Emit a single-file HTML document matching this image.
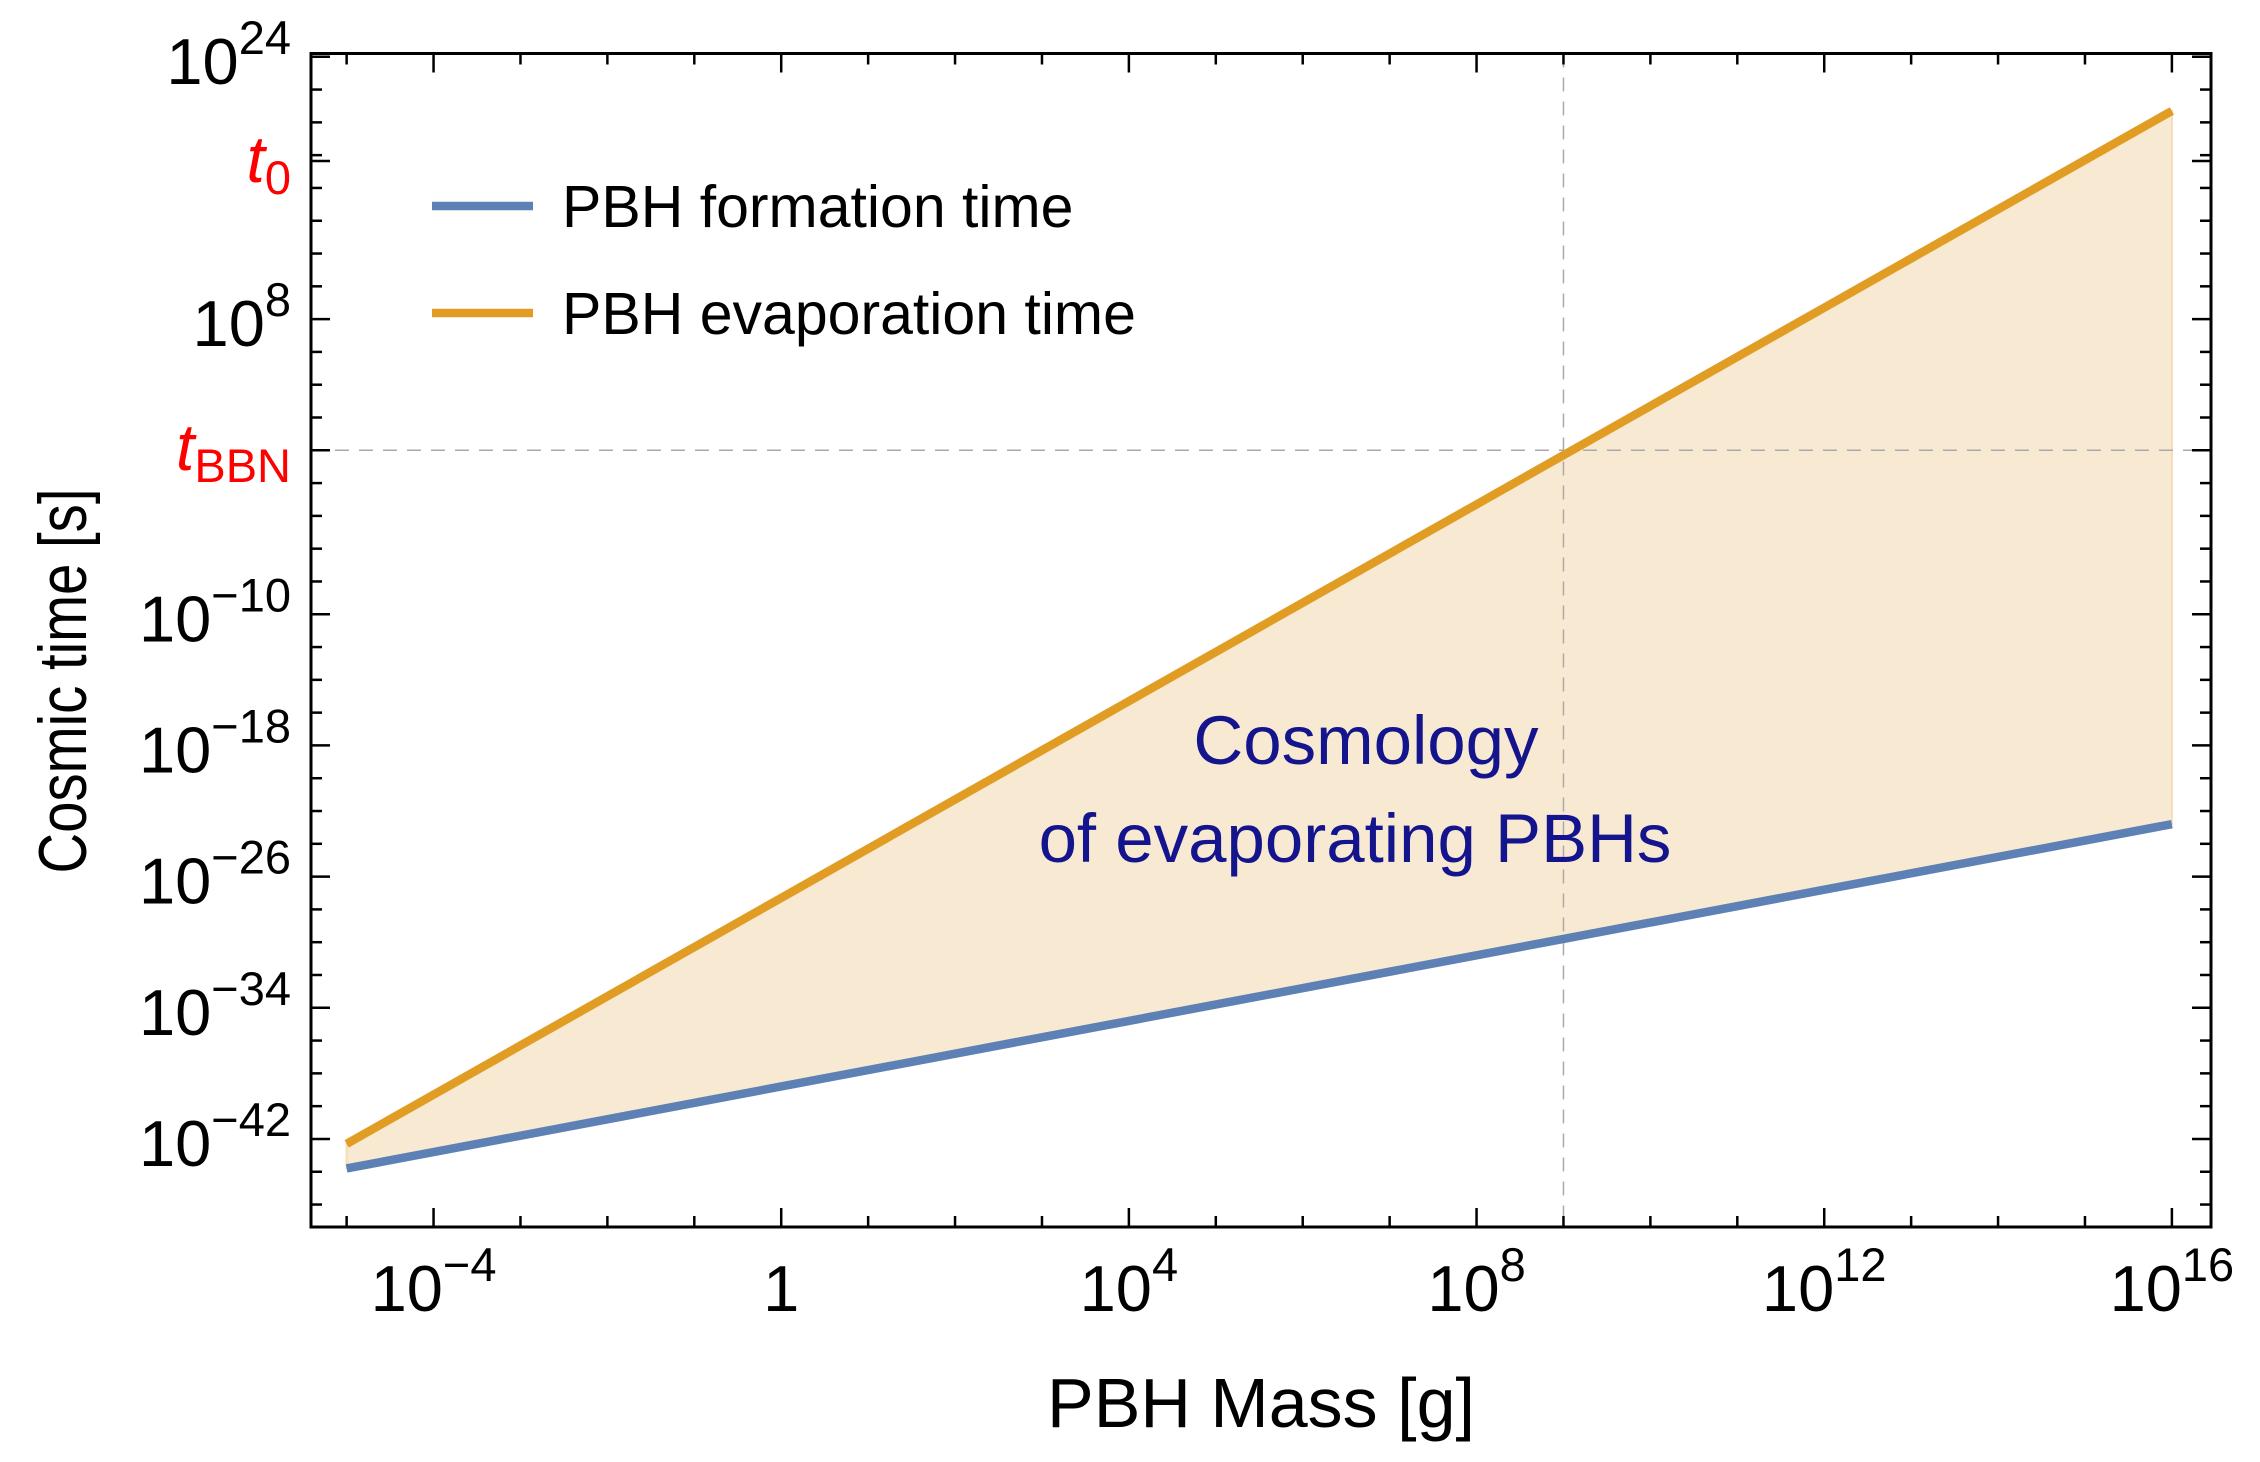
<!DOCTYPE html>
<html><head><meta charset="utf-8"><style>
html,body{margin:0;padding:0;background:#fff}
svg{display:block;font-family:"Liberation Sans",sans-serif}
</style></head><body>
<svg id="chart" width="2260" height="1462" viewBox="0 0 2260 1462" xmlns="http://www.w3.org/2000/svg">
<g id="fill-layer"></g>
<g id="ref-layer"></g>
<g id="line-layer"></g>
<g id="axis-layer"></g>
</svg>
<script>
// data (log10 values)
const massLog = [-5, 0, 4, 8, 9, 12, 16];
const formationLogT = [-43.8, -38.8, -34.8, -30.8, -29.8, -26.8, -22.8];
const evaporationLogT = [-42.3, -27.3, -15.3, -3.3, -0.3, 8.7, 20.7];
const xTickMajor = [-4, 0, 4, 8, 12, 16];
const xTickLabels = ["\u22124", "", "4", "8", "12", "16"];
const yTickLabelVals = [24, 8, -10, -18, -26, -34, -42];
const yTickLabels = ["24", "8", "\u221210", "\u221218", "\u221226", "\u221234", "\u221242"];
const tBBNLog = 0;
const t0Log = 17.64;
const bbnMassLog = 9;

const L = 311, R = 2211, T = 53.5, B = 1227;
const xMin = -5.41, xMax = 16.45, yMin = -47.37, yMax = 24.2;
const X = v => L + (v - xMin) / (xMax - xMin) * (R - L);
const Y = v => B - (v - yMin) / (yMax - yMin) * (B - T);
const NS = "http://www.w3.org/2000/svg";
function mk(tag, attrs, parent) {
  const e = document.createElementNS(NS, tag);
  for (const k in attrs) e.setAttribute(k, attrs[k]);
  parent.appendChild(e);
  return e;
}
const fillL = document.getElementById('fill-layer');
const refL = document.getElementById('ref-layer');
const lineL = document.getElementById('line-layer');
const axL = document.getElementById('axis-layer');

let d = massLog.map((m, i) => (i ? 'L' : 'M') + X(m) + ' ' + Y(evaporationLogT[i])).join(' ');
for (let i = massLog.length - 1; i >= 0; i--) d += ' L' + X(massLog[i]) + ' ' + Y(formationLogT[i]);
const band = mk('path', {d: d + 'Z', fill: '#f8e9d3', stroke: '#f5dcb5', 'stroke-width': 2}, fillL);



const hl = mk('line', {x1: L, x2: R, y1: Y(tBBNLog), y2: Y(tBBNLog), stroke: '#aaa', 'stroke-width': 1.5, 'stroke-dasharray': '14 10'}, refL);


const vl = mk('line', {x1: X(bbnMassLog), x2: X(bbnMassLog), y1: T, y2: B, stroke: '#aaa', 'stroke-width': 1.5, 'stroke-dasharray': '14 10'}, refL);



function series(vals, color, name) {
  const p = mk('polyline', {points: massLog.map((m, i) => X(m) + ',' + Y(vals[i])).join(' '), fill: 'none', stroke: color, 'stroke-width': 8.5}, lineL);
  
  
}
series(formationLogT, '#5e81b5', 'formation-time-line');
series(evaporationLogT, '#e19c24', 'evaporation-time-line');

const fr = mk('rect', {x: L, y: T, width: R - L, height: B - T, fill: 'none', stroke: '#000', 'stroke-width': 3}, axL);



for (let v = -5; v <= 16; v++) {
  const major = xTickMajor.includes(v);
  const len = major ? 19 : 11;
  const x = X(v);
  const t1 = mk('line', {x1: x, x2: x, y1: B, y2: B - len, stroke: '#000', 'stroke-width': 2.5}, axL);
  
  
  const t2 = mk('line', {x1: x, x2: x, y1: T, y2: T + len, stroke: '#000', 'stroke-width': 2.5}, axL);
  
  
}
xTickMajor.forEach((v, i) => {
  const t = mk('text', {x: X(v), y: 1311, 'font-size': 65, 'text-anchor': 'middle'}, axL);
  
  
  if (v === 0) { t.textContent = '1'; return; }
  const a = document.createElementNS(NS, 'tspan'); a.textContent = '10'; t.appendChild(a);
  const b = document.createElementNS(NS, 'tspan'); b.setAttribute('font-size', 47); b.setAttribute('dy', -30); b.textContent = xTickLabels[i]; t.appendChild(b);
});

for (let v = -46; v <= 24; v += 2) {
  const major = yTickLabelVals.includes(v) || v === tBBNLog;
  const len = major ? 19 : 11;
  const y = Y(v);
  const t1 = mk('line', {x1: L, x2: L + len, y1: y, y2: y, stroke: '#000', 'stroke-width': 2.5}, axL);
  
  
  const t2 = mk('line', {x1: R, x2: R - len, y1: y, y2: y, stroke: '#000', 'stroke-width': 2.5}, axL);
  
  
}
[t0Log].forEach(v => {
  const y = Y(v);
  mk('line', {x1: L, x2: L + 19, y1: y, y2: y, stroke: '#000', 'stroke-width': 2.5}, axL);
  mk('line', {x1: R, x2: R - 19, y1: y, y2: y, stroke: '#000', 'stroke-width': 2.5}, axL);
});
yTickLabelVals.forEach((v, i) => {
  const t = mk('text', {x: 291, y: Y(v) + 27, 'font-size': 65, 'text-anchor': 'end'}, axL);
  
  
  const a = document.createElementNS(NS, 'tspan'); a.textContent = '10'; t.appendChild(a);
  const b = document.createElementNS(NS, 'tspan'); b.setAttribute('font-size', 47); b.setAttribute('dy', -30); b.textContent = yTickLabels[i]; t.appendChild(b);
});
</script>
<script>
(function(){
const svg = document.getElementById('chart');
svg.insertAdjacentHTML('beforeend', `
<text x="291" y="182" font-size="66" fill="#ff0000" text-anchor="end"><tspan font-style="italic">t</tspan><tspan font-size="47" dy="12">0</tspan></text>
<text x="291" y="470" font-size="66" fill="#ff0000" text-anchor="end"><tspan font-style="italic">t</tspan><tspan font-size="47" dy="12">BBN</tspan></text>
<text x="1261" y="1427" font-size="70" text-anchor="middle">PBH Mass [g]</text>
<text transform="translate(86,681) rotate(-90)" font-size="68" text-anchor="middle" textLength="385" lengthAdjust="spacingAndGlyphs">Cosmic time [s]</text>
<g>
<line x1="432" x2="533" y1="206" y2="206" stroke="#5e81b5" stroke-width="8.5"/>
<text x="562" y="227" font-size="59">PBH formation time</text>
<line x1="432" x2="533" y1="313" y2="313" stroke="#e19c24" stroke-width="8.5"/>
<text x="562" y="334" font-size="59">PBH evaporation time</text>
</g>
<text x="1366" y="764" font-size="69" fill="#14148c" text-anchor="middle">Cosmology</text>
<text x="1355" y="862" font-size="69" fill="#14148c" text-anchor="middle">of evaporating PBHs</text>
`);
})();
</script>
</body></html>
